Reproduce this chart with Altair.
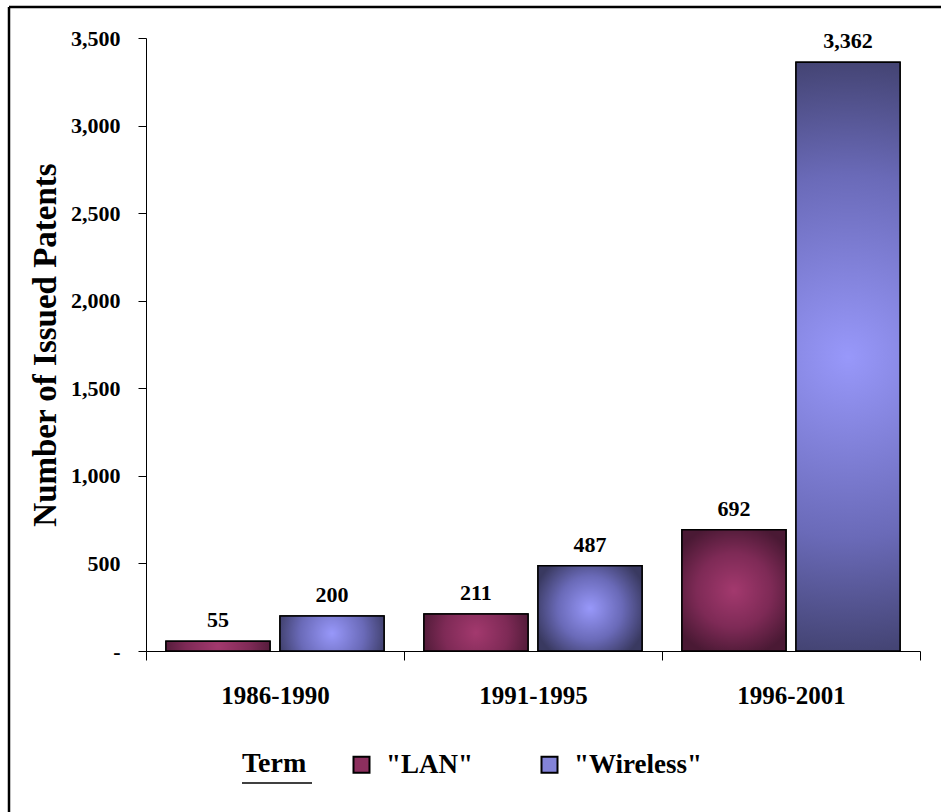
import altair as alt
import pandas as pd

# ---- data ----
periods = ["1986-1990", "1991-1995", "1996-2001"]
terms = ['"LAN"', '"Wireless"']
lan_counts = [55, 211, 692]
wireless_counts = [200, 487, 3362]
y_tick_values = [0, 500, 1000, 1500, 2000, 2500, 3000, 3500]

rows = []
for i, p in enumerate(periods):
    rows.append({"Period": p, "Term": terms[0], "Patents": lan_counts[i]})
    rows.append({"Period": p, "Term": terms[1], "Patents": wireless_counts[i]})
df = pd.DataFrame(rows)

FONT = "Liberation Serif"
W, H = 774, 613

lan_grad = alt.RadialGradient(
    gradient="radial", x1=0.5, y1=0.5, r1=0, x2=0.5, y2=0.5, r2=0.56,
    stops=[alt.GradientStop(color="#a3396e", offset=0),
           alt.GradientStop(color="#7e2a56", offset=0.55),
           alt.GradientStop(color="#4a1934", offset=1)])
wire_grad = alt.RadialGradient(
    gradient="radial", x1=0.5, y1=0.5, r1=0, x2=0.5, y2=0.5, r2=0.56,
    stops=[alt.GradientStop(color="#9898fa", offset=0),
           alt.GradientStop(color="#6a6ab8", offset=0.55),
           alt.GradientStop(color="#393960", offset=1)])

x_enc = alt.X(
    "Period:N", sort=periods, title=None,
    scale=alt.Scale(paddingInner=0, paddingOuter=0),
    axis=alt.Axis(labelAngle=0, tickBand="extent", tickSize=9, labelPadding=23,
                  labelFont=FONT, labelFontSize=25, labelFontWeight="bold",
                  labelColor="black", domainColor="black", tickColor="black",
                  domainWidth=1, tickWidth=1))
xo_enc = alt.XOffset("Term:N", sort=terms,
                     scale=alt.Scale(domain=terms, paddingInner=0.0877, paddingOuter=0.175))
y_enc = alt.Y(
    "Patents:Q", title="Number of Issued Patents",
    scale=alt.Scale(domain=[0, 3500], nice=False),
    axis=alt.Axis(values=y_tick_values, grid=False, tickSize=8, labelPadding=18,
                  labelExpr="datum.value == 0 ? '-' : format(datum.value, ',')",
                  labelFont=FONT, labelFontSize=22, labelFontWeight="bold",
                  labelColor="black", domainColor="black", tickColor="black",
                  titleFont=FONT, titleFontSize=33, titleFontWeight="bold",
                  titleColor="black", titleX=-101, titleY=H / 2,
                  titleBaseline="middle", titleAlign="center", titleAngle=-90))

base = alt.Chart(df)

# solid layer: carries the legend, hidden under the gradient bars
solid = base.mark_bar(stroke="black", strokeWidth=1.5).encode(
    x=x_enc, xOffset=xo_enc, y=y_enc,
    color=alt.Color(
        "Term:N", sort=terms,
        scale=alt.Scale(domain=terms, range=["#8c2f5e", "#8383d8"]),
        legend=alt.Legend(
            title="Term", orient="none", legendX=96, legendY=713,
            direction="horizontal", titleOrient="left",
            symbolType="square", symbolSize=256, symbolStrokeColor="black",
            symbolStrokeWidth=2, symbolOpacity=1,
            labelFont=FONT, labelFontSize=27, labelFontWeight="bold", labelColor="black",
            titleFont=FONT, titleFontSize=28, titleFontWeight="bold", titleColor="black",
            columnPadding=63, titlePadding=41, labelOffset=11, labelLimit=300)))

lan_bars = base.transform_filter(
    alt.FieldOneOfPredicate(field="Term", oneOf=[terms[0]])
).mark_bar(fill=lan_grad, stroke="black", strokeWidth=1.5).encode(
    x=x_enc, xOffset=xo_enc, y=y_enc)

wire_bars = base.transform_filter(
    alt.FieldOneOfPredicate(field="Term", oneOf=[terms[1]])
).mark_bar(fill=wire_grad, stroke="black", strokeWidth=1.5).encode(
    x=x_enc, xOffset=xo_enc, y=y_enc)

labels = base.mark_text(
    baseline="alphabetic", dy=-14, font=FONT, fontSize=22, fontWeight="bold", color="black"
).encode(x=x_enc, xOffset=xo_enc, y=y_enc,
         text=alt.Text("Patents:Q", format=","))

# decorative frame (top and left edges) and underline of legend title
frame_top = alt.Chart(alt.Data(values=[{}])).mark_rule(color="black", strokeWidth=2.5).encode(
    x=alt.value(-137), x2=alt.value(W + 21), y=alt.value(-31))
frame_left = alt.Chart(alt.Data(values=[{}])).mark_rule(color="black", strokeWidth=2.5).encode(
    x=alt.value(-137), y=alt.value(-31), y2=alt.value(H + 161))
underline = alt.Chart(alt.Data(values=[{}])).mark_rule(color="black", strokeWidth=1.5).encode(
    x=alt.value(96), x2=alt.value(166), y=alt.value(745))

chart = alt.layer(solid, lan_bars, wire_bars, labels, frame_top, frame_left, underline).properties(
    width=W, height=H,
    autosize=alt.AutoSizeParams(type="none"),
    padding={"left": 146, "top": 38, "right": 21, "bottom": 161},
).configure(
    background="white", font=FONT,
    view=alt.ViewConfig(stroke=None),
)

chart.save("out.html", embed_options={"renderer": "svg", "actions": False})
